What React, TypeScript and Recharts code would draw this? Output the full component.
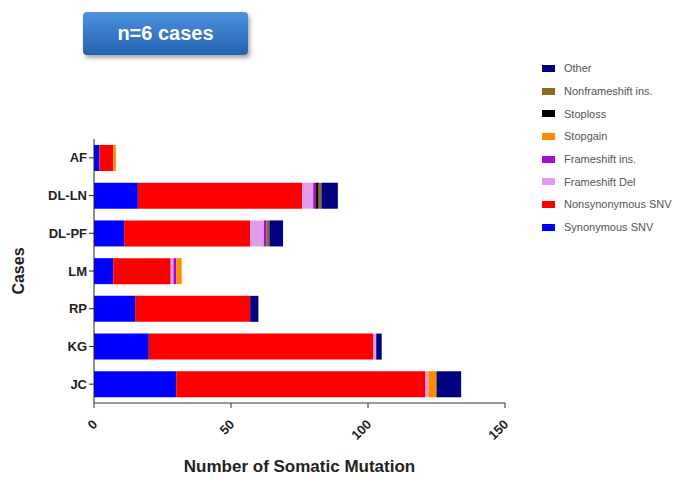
import { Bar, BarChart, Label, XAxis, YAxis } from "recharts"

// cases, top to bottom
const cases = ["AF", "DL-LN", "DL-PF", "LM", "RP", "KG", "JC"]

// mutation counts per case
const synonymous = [2, 16, 11, 7, 15, 20, 30]
const nonsynonymous = [5, 60, 46, 21, 42, 82, 91]
const frameshiftDel = [0, 4, 5, 1, 0, 1, 1]
const frameshiftIns = [0, 1, 1, 1, 0, 0, 0]
const stopgain = [1, 0, 0, 2, 0, 0, 3]
const stoploss = [0, 1, 0, 0, 0, 0, 0]
const nonframeshiftIns = [0, 1, 1, 0, 0, 0, 0]
const other = [0, 6, 5, 0, 3, 2, 9]

const xTicks = [0, 50, 100, 150]

// stack order, left to right
const series = [
  { key: "syn", name: "Synonymous SNV", color: "#0000ff", values: synonymous },
  { key: "nonsyn", name: "Nonsynonymous SNV", color: "#ff0000", values: nonsynonymous },
  { key: "fsdel", name: "Frameshift Del", color: "#e39bf0", values: frameshiftDel },
  { key: "fsins", name: "Frameshift ins.", color: "#a010d0", values: frameshiftIns },
  { key: "stopgain", name: "Stopgain", color: "#ff8c00", values: stopgain },
  { key: "stoploss", name: "Stoploss", color: "#000000", values: stoploss },
  { key: "nfsins", name: "Nonframeshift ins.", color: "#8b6a1e", values: nonframeshiftIns },
  { key: "other", name: "Other", color: "#000080", values: other },
]

const data = cases.map((c, i) => {
  const row: Record<string, string | number> = { name: c }
  series.forEach((s) => {
    row[s.key] = s.values[i]
  })
  return row
})

const XTick = ({ x, y, payload }: any) => (
  <text
    x={x + 1}
    y={y + 12}
    transform={`rotate(-45, ${x + 1}, ${y + 12})`}
    textAnchor="end"
    dy="0.35em"
    fontSize={13}
    fontWeight="bold"
    fill="#222"
  >
    {payload.value}
  </text>
)

const font = "Liberation Sans, Arial, sans-serif"

export default function App() {
  return (
    <div style={{ position: "absolute", left: 0, top: 0, width: 680, height: 483, background: "#fff" }}>
      <div
        style={{
          position: "absolute",
          left: 83,
          top: 12,
          width: 165,
          height: 43,
          borderRadius: 4,
          background: "linear-gradient(#4b92de, #2462b2)",
          boxShadow: "2px 3px 4px rgba(0,0,0,0.35)",
          color: "#fff",
          fontFamily: font,
          fontWeight: "bold",
          fontSize: 20,
          display: "flex",
          alignItems: "center",
          justifyContent: "center",
        }}
      >
        n=6 cases
      </div>
      <div
        style={{
          position: "absolute",
          left: 542,
          top: 57,
          width: 140,
          fontFamily: font,
          fontSize: 11,
          color: "#555",
        }}
      >
        {[...series].reverse().map((s) => (
          <div key={s.key} style={{ display: "flex", alignItems: "center", height: 22.7, whiteSpace: "nowrap" }}>
            <span style={{ display: "inline-block", width: 13, height: 7, background: s.color, marginRight: 9 }} />
            {s.name}
          </div>
        ))}
      </div>
      <BarChart
        width={680}
        height={483}
        data={data}
        layout="vertical"
        margin={{ top: 139, right: 175, bottom: 40, left: 30 }}
        barCategoryGap={6}
        style={{ fontFamily: font }}
      >
        <XAxis
          type="number"
          domain={[0, 150]}
          ticks={xTicks}
          height={40}
          stroke="#333"
          tickSize={5}
          tick={<XTick />}
          allowDataOverflow
        >
          <Label
            value="Number of Somatic Mutation"
            position="bottom"
            offset={17}
            style={{ fontSize: 17, fontWeight: "bold", fill: "#222" }}
          />
        </XAxis>
        <YAxis
          type="category"
          dataKey="name"
          width={64}
          stroke="#222"
          tickSize={5}
          tick={{ fontSize: 13, fontWeight: "bold", fill: "#222" }}
        >
          <Label
            content={({ viewBox }: any) => {
              const lx = viewBox.x - 12
              const ly = viewBox.y + viewBox.height / 2
              return (
                <text
                  x={lx}
                  y={ly}
                  transform={`rotate(-90, ${lx}, ${ly})`}
                  textAnchor="middle"
                  dy="0.35em"
                  fontSize={16}
                  fontWeight="bold"
                  fill="#222"
                >
                  Cases
                </text>
              )
            }}
          />
        </YAxis>
        {series.map((s) => (
          <Bar key={s.key} dataKey={s.key} name={s.name} stackId="a" fill={s.color} isAnimationActive={false} />
        ))}
      </BarChart>
    </div>
  )
}
